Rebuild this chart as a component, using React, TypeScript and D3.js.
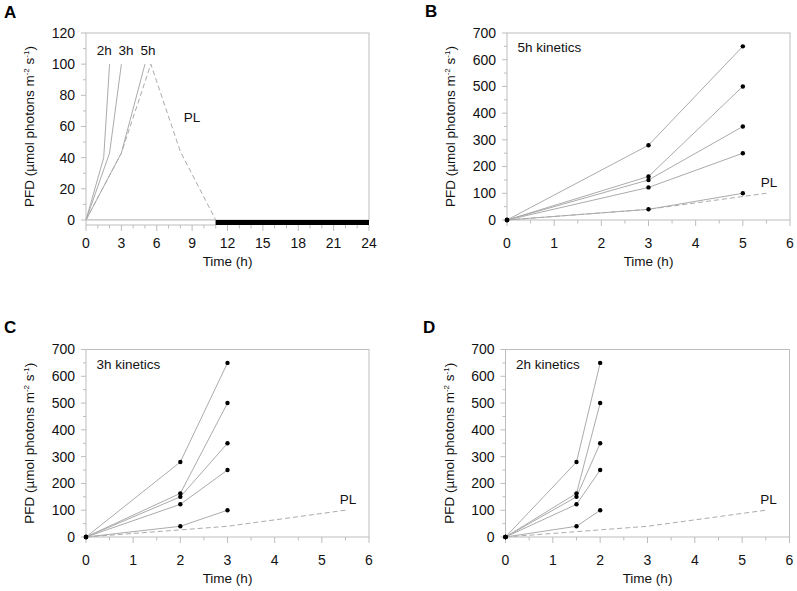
import React from "react";
import * as d3 from "d3";

// ---------- Data ----------
// Panel A: light regimes (time in h, PFD)
const a2hTimes = [0, 1.5, 2];
const a2hPFD = [0, 40, 100];
const a3hTimes = [0, 2, 3];
const a3hPFD = [0, 43, 100];
const a5hTimes = [0, 3, 5];
const a5hPFD = [0, 43, 100];
const plTimesA = [0, 3, 5.5, 8, 11];
const plPFDA = [0, 43, 100, 44, 0];
const darkPeriod = [11, 24];
const lightPeriod = [0, 11];

// Kinetics panels: five intensity series (mid point, end point)
const midPFD = [280, 163, 150, 122, 40];
const endPFD = [650, 500, 350, 250, 100];
const times5h = [0, 3, 5];
const times3h = [0, 2, 3];
const times2h = [0, 1.5, 2];
const plTimes = [0, 3, 5.5];
const plPFD = [0, 40, 100];

// Tick labels
const aXTicks = [0, 3, 6, 9, 12, 15, 18, 21, 24];
const aYTicks = [0, 20, 40, 60, 80, 100, 120];
const kXTicks = [0, 1, 2, 3, 4, 5, 6];
const kYTicks = [0, 100, 200, 300, 400, 500, 600, 700];

const FONT = "Arial, 'Liberation Sans', Helvetica, sans-serif";
const AXIS = "#bdbdbd";
const LINE = "#ababab";
const TICKFS = 14;

type Pt = [number, number];

function YTitle({ x, y }: { x: number; y: number }) {
  return (
    <text
      transform={`translate(${x},${y}) rotate(-90)`}
      textAnchor="middle"
      fontSize={13.5}
      fontFamily={FONT}
      fill="#111"
    >
      PFD (µmol photons m
      <tspan fontSize={8} dy={-5}>-2</tspan>
      <tspan dy={5}> s</tspan>
      <tspan fontSize={8} dy={-5}>-1</tspan>
      <tspan dy={5}>)</tspan>
    </text>
  );
}

function Frame({
  x,
  y,
  xTicks,
  yTicks,
  xMinor,
  yMinor,
  xTickOffset = 0,
}: {
  x: d3.ScaleLinear<number, number>;
  y: d3.ScaleLinear<number, number>;
  xTicks: number[];
  yTicks: number[];
  xMinor: number[];
  yMinor: number[];
  xTickOffset?: number;
}) {
  const [x0, x1] = x.range();
  const [y0, y1] = y.range();
  const tb = y0 + xTickOffset;
  return (
    <g>
      <rect x={x0} y={y1} width={x1 - x0} height={y0 - y1} fill="none" stroke={AXIS} strokeWidth={1} />
      {xTicks.map((t) => (
        <g key={"xt" + t}>
          <line x1={x(t)} x2={x(t)} y1={tb} y2={tb + 6} stroke={AXIS} />
          <text x={x(t)} y={y0 + 28} textAnchor="middle" fontSize={TICKFS} fontFamily={FONT} fill="#111">
            {t}
          </text>
        </g>
      ))}
      {xMinor.map((t) => (
        <line key={"xm" + t} x1={x(t)} x2={x(t)} y1={tb} y2={tb + 3.5} stroke={AXIS} />
      ))}
      {yTicks.map((t) => (
        <g key={"yt" + t}>
          <line x1={x0 - 5} x2={x0} y1={y(t)} y2={y(t)} stroke={AXIS} />
          <text
            x={x0 - 11}
            y={y(t)}
            dy="0.35em"
            textAnchor="end"
            fontSize={TICKFS}
            fontFamily={FONT}
            fill="#111"
          >
            {t}
          </text>
        </g>
      ))}
      {yMinor.map((t) => (
        <line key={"ym" + t} x1={x0 - 3} x2={x0} y1={y(t)} y2={y(t)} stroke={AXIS} />
      ))}
      <text
        x={(x0 + x1) / 2}
        y={y0 + 46}
        textAnchor="middle"
        fontSize={13.5}
        fontFamily={FONT}
        fill="#111"
      >
        Time (h)
      </text>
      <YTitle x={x0 - 52} y={(y0 + y1) / 2} />
    </g>
  );
}

function zip(ts: number[], vs: number[]): Pt[] {
  return ts.map((t, i) => [t, vs[i]]);
}

function PanelA() {
  const x = d3.scaleLinear().domain([0, 24]).range([86, 369]);
  const y = d3.scaleLinear().domain([0, 120]).range([220, 33]);
  const line = d3
    .line<Pt>()
    .x((d) => x(d[0]))
    .y((d) => y(d[1]));
  const xMinor = d3.range(0, 25, 1).filter((v) => v % 3 !== 0);
  const yMinor = d3.range(10, 120, 20);
  return (
    <g>
      <Frame x={x} y={y} xTicks={aXTicks} yTicks={aYTicks} xMinor={xMinor} yMinor={yMinor} xTickOffset={5} />
      {[zip(a2hTimes, a2hPFD), zip(a3hTimes, a3hPFD), zip(a5hTimes, a5hPFD)].map((s, i) => (
        <path key={i} d={line(s) || ""} fill="none" stroke={LINE} strokeWidth={1} />
      ))}
      <path d={line(zip(plTimesA, plPFDA)) || ""} fill="none" stroke={LINE} strokeWidth={1} strokeDasharray="5,3" />
      <rect
        x={x(lightPeriod[0])}
        y={y(0)}
        width={x(lightPeriod[1]) - x(lightPeriod[0])}
        height={5}
        fill="#fff"
        stroke={AXIS}
        strokeWidth={1}
      />
      <rect x={x(darkPeriod[0])} y={y(0)} width={x(darkPeriod[1]) - x(darkPeriod[0])} height={5} fill="#000" />
      <text x={x(1.55)} y={y(106)} textAnchor="middle" fontSize={13.5} fontFamily={FONT} fill="#111">2h</text>
      <text x={x(3.4)} y={y(106)} textAnchor="middle" fontSize={13.5} fontFamily={FONT} fill="#111">3h</text>
      <text x={x(5.25)} y={y(106)} textAnchor="middle" fontSize={13.5} fontFamily={FONT} fill="#111">5h</text>
      <text x={x(8.3)} y={y(63)} fontSize={13.5} fontFamily={FONT} fill="#111">PL</text>
      <text x={4} y={18} fontSize={17} fontWeight="bold" fontFamily={FONT} fill="#000">A</text>
    </g>
  );
}

function KineticsPanel({
  xr,
  yr,
  times,
  label,
  letter,
  letterPos,
}: {
  xr: [number, number];
  yr: [number, number];
  times: number[];
  label: string;
  letter: string;
  letterPos: [number, number];
}) {
  const x = d3.scaleLinear().domain([0, 6]).range(xr);
  const y = d3.scaleLinear().domain([0, 700]).range(yr);
  const line = d3
    .line<Pt>()
    .x((d) => x(d[0]))
    .y((d) => y(d[1]));
  const xMinor = d3.range(0.5, 6, 1);
  const yMinor = d3.range(50, 700, 100);
  const series: Pt[][] = midPFD.map((m, i) => zip(times, [0, m, endPFD[i]]));
  return (
    <g>
      <Frame x={x} y={y} xTicks={kXTicks} yTicks={kYTicks} xMinor={xMinor} yMinor={yMinor} />
      <path d={line(zip(plTimes, plPFD)) || ""} fill="none" stroke={LINE} strokeWidth={1} strokeDasharray="5,3" />
      {series.map((s, i) => (
        <path key={i} d={line(s) || ""} fill="none" stroke={LINE} strokeWidth={1} />
      ))}
      {series.map((s, i) =>
        s.map((p, j) => <circle key={i + "-" + j} cx={x(p[0])} cy={y(p[1])} r={2.2} fill="#000" />)
      )}
      <text x={x(0.22)} y={y(628)} fontSize={13.5} fontFamily={FONT} fill="#111">{label}</text>
      <text x={x(5.38)} y={y(125)} fontSize={13.5} fontFamily={FONT} fill="#111">PL</text>
      <text x={letterPos[0]} y={letterPos[1]} fontSize={17} fontWeight="bold" fontFamily={FONT} fill="#000">
        {letter}
      </text>
    </g>
  );
}

export default function App() {
  return (
    <svg
      width={797}
      height={591}
      style={{ position: "absolute", left: 0, top: 0, background: "#fff" }}
    >
      <rect width={797} height={591} fill="#fff" />
      <PanelA />
      <KineticsPanel xr={[507, 790]} yr={[220, 33]} times={times5h} label="5h kinetics" letter="B" letterPos={[425, 17]} />
      <KineticsPanel xr={[86, 369]} yr={[537, 349.5]} times={times3h} label="3h kinetics" letter="C" letterPos={[4, 333]} />
      <KineticsPanel xr={[505.5, 789.5]} yr={[537, 349.5]} times={times2h} label="2h kinetics" letter="D" letterPos={[423, 333]} />
    </svg>
  );
}
